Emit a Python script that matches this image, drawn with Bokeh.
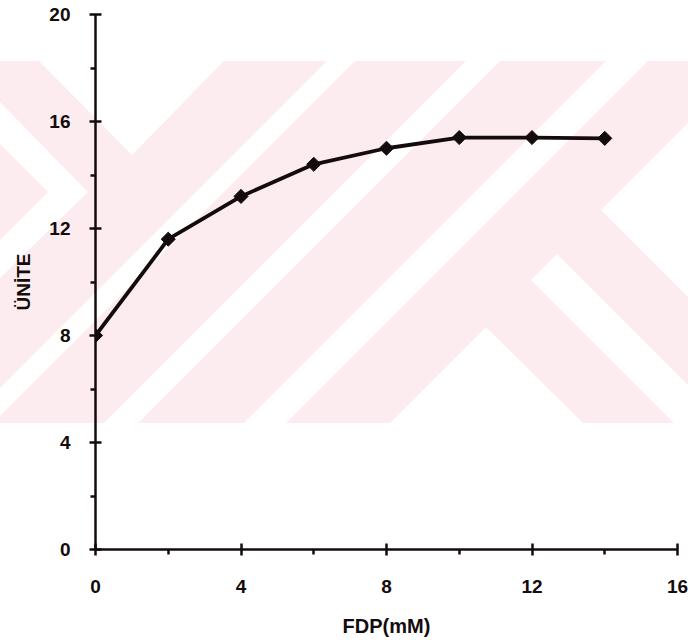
from bokeh.plotting import figure
from bokeh.models import FixedTicker, Range1d, ColumnDataSource
from bokeh.embed import file_html
from bokeh.resources import INLINE

# ---- data ----
fdp_mM = [0, 2, 4, 6, 8, 10, 12, 14]
unite = [8.0, 11.6, 13.2, 14.4, 15.0, 15.4, 15.4, 15.37]

x_ticks = [0, 4, 8, 12, 16]
x_minor = [2, 6, 10, 14]
y_ticks = [0, 4, 8, 12, 16, 20]
y_minor = [2, 6, 10, 14, 18]

x_label = "FDP(mM)"
y_label = "ÜNİTE"

INK = "#140c0c"
FONT = "Liberation Sans"

# ---- decorative scanned-page watermark (CSS background, canvas pixels) ----
PINK = "%23fcecef"
shapes = [
    ([(0, 61), (688, 61), (688, 423), (0, 423)], PINK),
    ([(39, 61), (224, 61), (132, 155)], "white"),
    ([(0, 102), (88, 192), (0, 278), (0, 240), (48, 192), (0, 144)], "white"),
    ([(327, 61), (355, 61), (0, 416), (0, 388)], "white"),
    ([(466, 61), (500, 61), (138, 423), (104, 423)], "white"),
    ([(606, 61), (648, 61), (286, 423), (244, 423)], "white"),
    ([(531, 280), (557, 254), (688, 385), (688, 423), (674, 423)], "white"),
    ([(601, 210), (688, 123), (688, 297)], "white"),
    ([(390, 423), (583, 423), (486, 327)], "white"),
]
svg = "<svg xmlns='http://www.w3.org/2000/svg' width='688' height='640'>"
for pts, col in shapes:
    svg += "<polygon points='" + " ".join(f"{x},{y}" for x, y in pts) + f"' fill='{col}'/>"
svg += "</svg>"

p = figure(width=688, height=640, output_backend="svg", toolbar_location=None,
           x_range=Range1d(0, 16), y_range=Range1d(0, 20),
           min_border_left=95, min_border_right=11, min_border_top=14,
           min_border_bottom=91)
p.styles = {"background-image": f"url(\"data:image/svg+xml;utf8,{svg}\")",
            "background-repeat": "no-repeat",
            "background-color": "white"}
p.outline_line_color = None
p.grid.visible = False
p.background_fill_color = None
p.border_fill_color = None

# ---- data line and markers ----
src = ColumnDataSource(dict(x=fdp_mM, y=unite))
p.line("x", "y", source=src, line_color=INK, line_width=3.8)
p.scatter("x", "y", source=src, marker="square", angle=0.785398, size=10,
          fill_color=INK, line_color=INK)

# ---- axes ----
for ax, ticks, minor in ((p.xaxis[0], x_ticks, x_minor), (p.yaxis[0], y_ticks, y_minor)):
    ax.ticker = FixedTicker(ticks=ticks, minor_ticks=minor)
    ax.axis_line_color = INK
    ax.axis_line_width = 2.5
    ax.major_tick_line_color = INK
    ax.major_tick_line_width = 2.5
    ax.major_tick_in = 6
    ax.major_tick_out = 6
    ax.minor_tick_line_color = INK
    ax.minor_tick_line_width = 2.5
    ax.minor_tick_in = 0
    ax.minor_tick_out = 5
    ax.major_label_text_font = FONT
    ax.major_label_text_font_style = "bold"
    ax.major_label_text_font_size = "19px"
    ax.major_label_text_color = INK
    ax.axis_label_text_font = FONT
    ax.axis_label_text_font_style = "bold"
    ax.axis_label_text_color = INK

p.xaxis.axis_label = x_label
p.xaxis.major_label_standoff = 24
p.xaxis.axis_label_standoff = 19
p.xaxis.axis_label_text_font_size = "20px"

p.yaxis.axis_label = y_label
p.yaxis.major_label_standoff = 19
p.yaxis.axis_label_standoff = 12
p.yaxis.axis_label_text_font_size = "19px"

open("out.html", "w").write(file_html(p, INLINE))
